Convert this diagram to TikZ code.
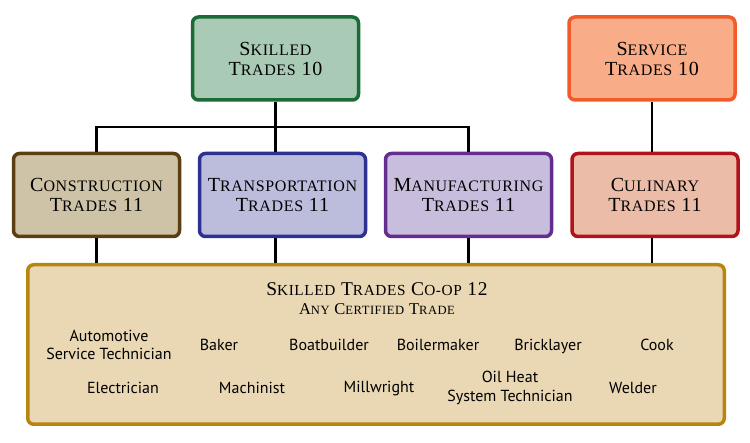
\documentclass[tikz,border=0pt]{standalone}
\usepackage{fontspec}
\newfontfamily\itemfont{PT Sans}
\newfontfamily\headfont[LetterSpace=4]{Liberation Serif}
\newcommand\sm{\fontsize{16}{20}\selectfont}
\newcommand\smt{\fontsize{15.3}{20}\selectfont}
\newcommand\sms{\fontsize{12.6}{15}\selectfont}

\definecolor{skilledfill}{HTML}{A9CBB5}
\definecolor{skilledline}{HTML}{1B6B37}
\definecolor{servicefill}{HTML}{F8AC87}
\definecolor{serviceline}{HTML}{F15A29}
\definecolor{consfill}{HTML}{CEC2A7}
\definecolor{consline}{HTML}{5B3F12}
\definecolor{transfill}{HTML}{BCBCDD}
\definecolor{transline}{HTML}{2E3192}
\definecolor{manufill}{HTML}{C9BDDD}
\definecolor{manuline}{HTML}{662D91}
\definecolor{culfill}{HTML}{EBBCA8}
\definecolor{culline}{HTML}{B2121B}
\definecolor{coopfill}{HTML}{EAD8B5}
\definecolor{coopline}{HTML}{B8860F}

\tikzstyle{trade} = [
	draw,
	line width = 3.5pt,
	rounded corners = 6pt,
	minimum width = 166pt,
	minimum height = 83pt,
	align = center,
	font = \headfont\fontsize{20}{20}\selectfont
	]

\tikzstyle{job} = [
	align = center,
	font = \itemfont\fontsize{16}{18.5}\selectfont
	]

\begin{document}
\begin{tikzpicture}[
	x = 1pt,
	y = -1pt,
	every path/.style = {
	line width = 2.5pt
	}
	]

			   \useasboundingbox (0,0) rectangle (750,443);

			   \node[trade, fill=skilledfill, draw=skilledline] (skilled) at (275.5,58.5) {S{\sm KILLED}\\T{\sm RADES} 10};
			   \node[trade, fill=servicefill, draw=serviceline] (service) at (652,58.5) {S{\sm ERVICE}\\T{\sm RADES} 10};

			   \node[trade, fill=consfill, draw=consline] (cons) at (96.5,195) {C{\sm ONSTRUCTION}\\T{\sm RADES} 11};
			   \node[trade, fill=transfill, draw=transline] (trans) at (282.5,195) {T{\sm RANSPORTATION}\\T{\sm RADES} 11};
			   \node[trade, fill=manufill, draw=manuline] (manu) at (468.5,195) {M{\sm ANUFACTURING}\\T{\sm RADES} 11};
			   \node[trade, fill=culfill, draw=culline] (cul) at (655,195) {C{\sm ULINARY}\\T{\sm RADES} 11};

			   \node[trade, fill=coopfill, draw=coopline, minimum width=696.5pt, minimum height=159.5pt] (coop) at (376,344.5) {};
			   \node[font=\headfont\fontsize{19.5}{20}\selectfont] (cooptitle) at (377,289) {S{\smt KILLED} T{\smt RADES} C{\smt O-OP} 12};
			   \node[font=\headfont\fontsize{16.5}{15}\selectfont] (coopsub) at (377,309) {A{\sms NY} C{\sms ERTIFIED} T{\sms RADE}};

			   \node[job] (j1)  at (109,345) {Automotive\\Service Technician};
			   \node[job] (j2)  at (219,345) {Baker};
			   \node[job] (j3)  at (329,345) {Boatbuilder};
			   \node[job] (j4)  at (438,345) {Boilermaker};
			   \node[job] (j5)  at (548,346) {Bricklayer};
			   \node[job] (j6)  at (657,345) {Cook};
			   \node[job] (j7)  at (123,388) {Electrician};
			   \node[job] (j8)  at (252,388) {Machinist};
			   \node[job] (j9)  at (379,389) {Millwright};
			   \node[job] (j10) at (510,388) {Oil Heat\\System Technician};
			   \node[job] (j11) at (633,388) {Welder};

			   \coordinate (bus) at (275.5,127);

			   \draw (cons.north) |- (bus) -| (manu.north);
			   \draw (skilled.south) -- (skilled.south |- trans.north);
			   \draw (service.south) -- (service.south |- cul.north);

			   \draw (cons.south) -- (cons.south |- coop.north);
			   \draw (skilled.south |- trans.south) -- (skilled.south |- coop.north);
			   \draw (manu.south) -- (manu.south |- coop.north);
			   \draw (service.south |- cul.south) -- (service.south |- coop.north);
		   \end{tikzpicture}
\end{document}
